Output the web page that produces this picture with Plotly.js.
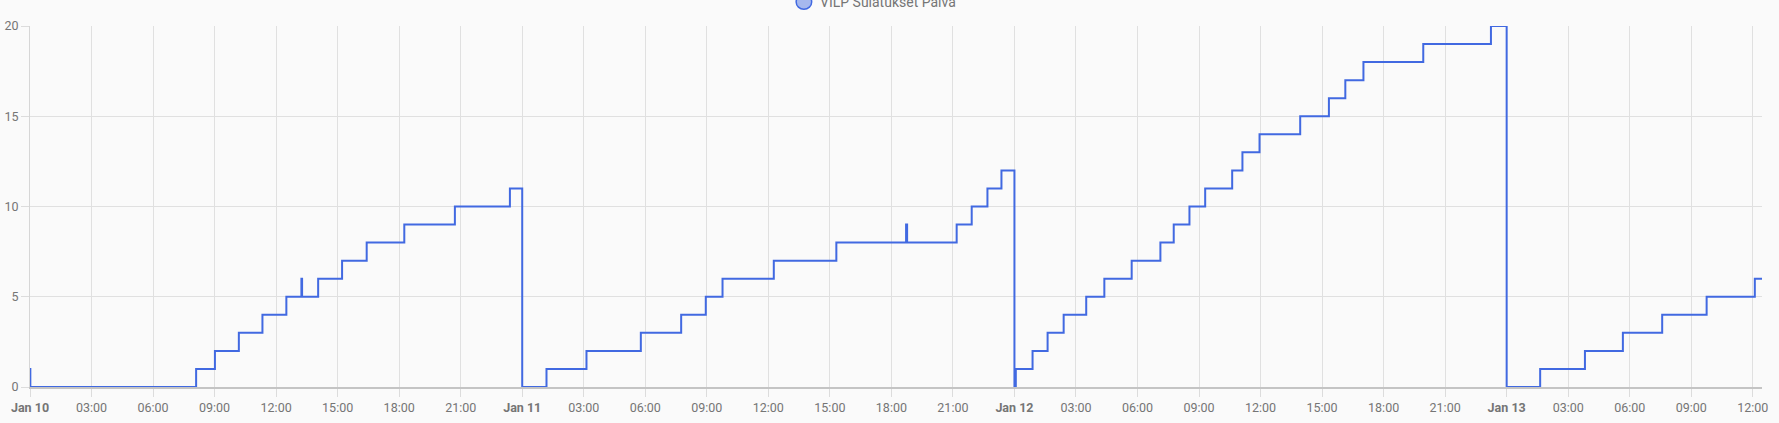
<!DOCTYPE html>
<html>
<head>
<meta charset="utf-8">
<script src="https://cdn.plot.ly/plotly-3.0.1.min.js"></script>
<style>
html,body{margin:0;padding:0;background:#fafafa;}
#chart{width:1779px;height:423px;}
</style>
</head>
<body>
<div id="chart"></div>
<script>
const seriesName = "VILP Sulatukset Päivä";

const times = [
  "2024-01-10 00:00", "2024-01-10 00:01", "2024-01-10 08:06", "2024-01-10 09:01",
  "2024-01-10 10:11", "2024-01-10 11:20", "2024-01-10 12:30", "2024-01-10 13:14",
  "2024-01-10 13:16", "2024-01-10 14:03", "2024-01-10 15:13", "2024-01-10 16:25",
  "2024-01-10 18:15", "2024-01-10 20:43", "2024-01-10 23:24",
  "2024-01-11 00:00", "2024-01-11 01:11", "2024-01-11 03:08", "2024-01-11 05:47",
  "2024-01-11 07:45", "2024-01-11 08:57", "2024-01-11 09:46", "2024-01-11 12:16",
  "2024-01-11 15:19", "2024-01-11 18:43", "2024-01-11 18:46", "2024-01-11 21:11",
  "2024-01-11 21:55", "2024-01-11 22:41", "2024-01-11 23:22",
  "2024-01-12 00:00", "2024-01-12 00:04", "2024-01-12 00:53", "2024-01-12 01:37",
  "2024-01-12 02:24", "2024-01-12 03:30", "2024-01-12 04:23", "2024-01-12 05:43",
  "2024-01-12 07:07", "2024-01-12 07:46", "2024-01-12 08:32", "2024-01-12 09:18",
  "2024-01-12 10:37", "2024-01-12 11:07", "2024-01-12 11:57", "2024-01-12 13:56",
  "2024-01-12 15:20", "2024-01-12 16:08", "2024-01-12 17:01", "2024-01-12 19:56",
  "2024-01-12 23:14",
  "2024-01-13 00:00", "2024-01-13 01:38", "2024-01-13 03:49", "2024-01-13 05:40",
  "2024-01-13 07:35", "2024-01-13 09:45", "2024-01-13 12:06", "2024-01-13 12:27"
];
const values = [
  1, 0, 1, 2,
  3, 4, 5, 6,
  5, 6, 7, 8,
  9, 10, 11,
  0, 1, 2, 3,
  4, 5, 6, 7,
  8, 9, 8, 9,
  10, 11, 12,
  0, 1, 2, 3,
  4, 5, 6, 7,
  8, 9, 10, 11,
  12, 13, 14, 15,
  16, 17, 18, 19,
  20,
  0, 1, 2, 3,
  4, 5, 6, 6
];

const xTickVals = [
  "2024-01-10 00:00","2024-01-10 03:00","2024-01-10 06:00","2024-01-10 09:00",
  "2024-01-10 12:00","2024-01-10 15:00","2024-01-10 18:00","2024-01-10 21:00",
  "2024-01-11 00:00","2024-01-11 03:00","2024-01-11 06:00","2024-01-11 09:00",
  "2024-01-11 12:00","2024-01-11 15:00","2024-01-11 18:00","2024-01-11 21:00",
  "2024-01-12 00:00","2024-01-12 03:00","2024-01-12 06:00","2024-01-12 09:00",
  "2024-01-12 12:00","2024-01-12 15:00","2024-01-12 18:00","2024-01-12 21:00",
  "2024-01-13 00:00","2024-01-13 03:00","2024-01-13 06:00","2024-01-13 09:00",
  "2024-01-13 12:00"
];
const xTickText = [
  "<b>Jan 10</b>","03:00","06:00","09:00","12:00","15:00","18:00","21:00",
  "<b>Jan 11</b>","03:00","06:00","09:00","12:00","15:00","18:00","21:00",
  "<b>Jan 12</b>","03:00","06:00","09:00","12:00","15:00","18:00","21:00",
  "<b>Jan 13</b>","03:00","06:00","09:00","12:00"
];
const yTickVals = [0, 5, 10, 15, 20];
const yTickText = ["0", "5", "10", "15", "20"];

const lineColor = "#4169e1";
const W = 1779, H = 423;
const L = 29.7, R = 1762, T = 26, B = 387;
const px = v => (v - L) / (R - L);
const py = v => (B - v) / (B - T);

const trace = {
  x: times, y: values, type: "scatter", mode: "lines", name: seriesName,
  line: {shape: "hv", color: lineColor, width: 2},
  hoverinfo: "x+y", showlegend: false
};

const layout = {
  width: W, height: H,
  margin: {l: L, r: W - R, t: T, b: H - B, pad: 0},
  paper_bgcolor: "#fafafa", plot_bgcolor: "#fafafa",
  font: {family: "Roboto, sans-serif", size: 12, color: "#757575"},
  showlegend: false,
  xaxis: {
    type: "date",
    range: ["2024-01-10 00:00", "2024-01-13 12:27"],
    tickmode: "array", tickvals: xTickVals, ticktext: xTickText,
    tickangle: 0,
    showgrid: true, gridcolor: "#e0e0e0", gridwidth: 1,
    ticks: "outside", ticklen: 8, tickcolor: "#dcdcdc", tickwidth: 1,
    showline: true, linecolor: "#c4c4c4", linewidth: 1.5,
    zeroline: false,
    tickfont: {family: "Roboto, sans-serif", size: 12.5, color: "#757575"}
  },
  yaxis: {
    range: [0, 20],
    tickmode: "array", tickvals: yTickVals, ticktext: yTickText,
    showgrid: true, gridcolor: "#e0e0e0", gridwidth: 1,
    ticks: "outside", ticklen: 8, tickcolor: "#dcdcdc", tickwidth: 1,
    showline: true, linecolor: "#d6d6d6", linewidth: 1,
    zeroline: false,
    tickfont: {family: "Roboto, sans-serif", size: 12.5, color: "#757575"}
  },
  shapes: [{
    type: "circle", xref: "paper", yref: "paper",
    x0: px(796), x1: px(811.5), y0: py(-5.5), y1: py(9.3),
    fillcolor: "rgba(65,105,225,0.45)",
    line: {color: lineColor, width: 1.5}
  }],
  annotations: [{
    xref: "paper", yref: "paper",
    x: px(818), y: py(2), xanchor: "left", yanchor: "middle",
    text: seriesName, showarrow: false,
    font: {family: "Roboto, sans-serif", size: 14, color: "#757575"}
  }]
};

Plotly.newPlot("chart", [trace], layout, {displayModeBar: false, staticPlot: true});
</script>
</body>
</html>
